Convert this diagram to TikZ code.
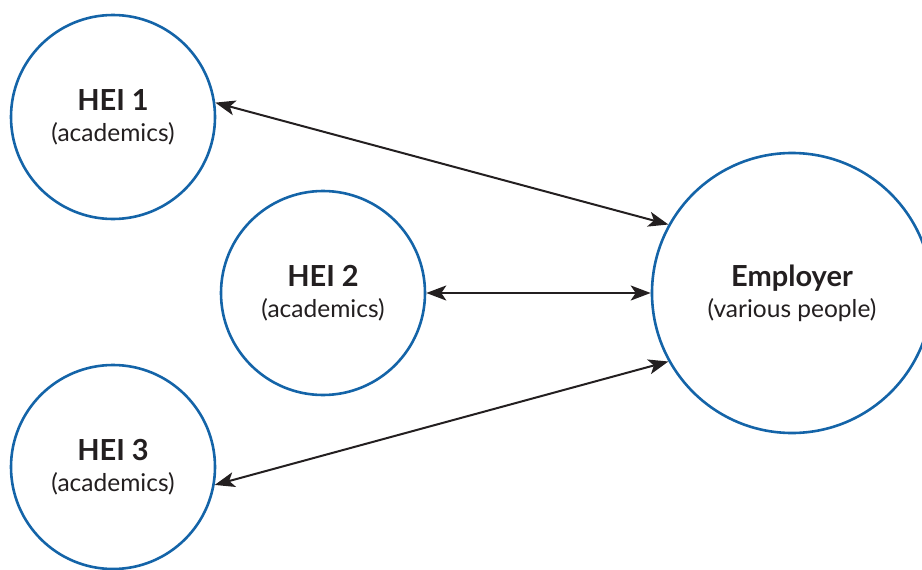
\documentclass[tikz,border=0pt]{standalone}
\usepackage{fontspec}
\setmainfont{Lato}
\usetikzlibrary{arrows.meta}
\definecolor{ringblue}{RGB}{20,100,168}
\definecolor{inkdark}{RGB}{35,31,32}
\tikzset{
  party/.style={circle, draw=ringblue, line width=2.6pt, fill=white,
    inner sep=0pt, outer sep=1.3pt, align=center, text=inkdark,
    font=\fontsize{29}{31}\selectfont},
  link/.style={draw=inkdark, line width=2pt,
    {Stealth[length=20pt,width=15pt,inset=5pt]}-{Stealth[length=20pt,width=15pt,inset=5pt]}}
}
\newcommand{\twoline}[2]{\textbf{#1}\\{\fontsize{24.5}{31}\selectfont #2}}
\begin{document}
\begin{tikzpicture}[x=1pt,y=-1pt]
  \useasboundingbox (0,0) rectangle (922,570);
  \begin{scope}
    \clip (0,0) rectangle (922,570);
    \node[party, minimum size=204pt] (h1) at (113,117) {\twoline{HEI 1}{(academics)}};
    \node[party, minimum size=204pt] (h2) at (323,293) {\twoline{HEI 2}{(academics)}};
    \node[party, minimum size=204pt] (h3) at (113,467) {\twoline{HEI 3}{(academics)}};
    \node[party, minimum size=280pt] (emp) at (792,293) {\twoline{Employer}{(various people)}};
  \end{scope}
  \draw[link] (h1.8) -- (emp.151);
  \draw[link] (h2.east) -- (emp.west);
  \draw[link] (h3.-10) -- (emp.209);
\end{tikzpicture}
\end{document}
